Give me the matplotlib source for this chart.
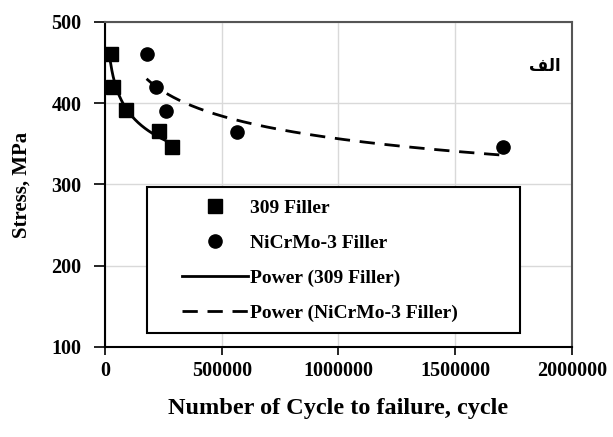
import numpy as np
import matplotlib
matplotlib.use("Agg")
import matplotlib.pyplot as plt
from matplotlib.patches import Rectangle

cycles_309 = [24000, 36000, 89000, 232000, 288000]
stress_309 = [460, 420, 392, 366, 346]
cycles_ni = [178000, 217000, 261000, 564000, 1706000]
stress_ni = [460, 420, 390, 365, 346]
x_ticks = [0, 500000, 1000000, 1500000, 2000000]
y_ticks = [100, 200, 300, 400, 500]
panel_label = "\uFED2\uFEDF\u0627"  # "الف" in visual (shaped) order

plt.rcParams['font.family'] = ['Liberation Serif', 'DejaVu Sans']
plt.rcParams['font.weight'] = 'bold'

fig = plt.figure(figsize=(6.13, 4.37), dpi=100)
ax = fig.add_axes([0.1713, 0.206, 0.7618, 0.7437])

def power_fit(x, y):
    b, loga = np.polyfit(np.log(x), np.log(y), 1)
    xs = np.linspace(min(x), max(x), 200)
    return xs, np.exp(loga) * xs ** b

ax.plot(cycles_309, stress_309, 's', color='black', markersize=9.5, label='309 Filler', zorder=4)
ax.plot(cycles_ni, stress_ni, 'o', color='black', markersize=9.5, label='NiCrMo-3 Filler', zorder=4)
xs, ys = power_fit(cycles_309, stress_309)
ax.plot(xs, ys, '-', color='black', linewidth=2, label='Power (309 Filler)', zorder=3)
xs, ys = power_fit(cycles_ni, stress_ni)
ax.plot(xs, ys, '--', color='black', linewidth=2, dashes=(5.5, 3.5), label='Power (NiCrMo-3 Filler)', zorder=3)

ax.set_xlim(0, 2000000)
ax.set_ylim(100, 500)
ax.set_xticks(x_ticks)
ax.set_yticks(y_ticks)
ax.set_xticklabels([str(v) for v in x_ticks])
ax.set_yticklabels([str(v) for v in y_ticks])
ax.grid(True, color='#d9d9d9', linewidth=1)
ax.set_axisbelow(True)
for s in ['top', 'right']:
    ax.spines[s].set_color('#555555')
    ax.spines[s].set_linewidth(1.5)
for s in ['left', 'bottom']:
    ax.spines[s].set_color('black')
    ax.spines[s].set_linewidth(1.5)
ax.tick_params(axis='x', direction='out', length=6, width=1.2, labelsize=14.5, pad=4)
ax.tick_params(axis='y', direction='out', length=8, width=1.2, labelsize=14.5, pad=9)
for lab in ax.get_xticklabels() + ax.get_yticklabels():
    lab.set_fontweight('bold')

ax.set_xlabel('Number of Cycle to failure, cycle', fontsize=17.5, fontweight='bold', labelpad=12)
ax.set_ylabel('Stress, MPa', fontsize=15, fontweight='bold', labelpad=14)

ax.text(0.975, 0.865, panel_label, transform=ax.transAxes, ha='right', va='center',
        fontsize=12, fontweight='bold', family=['DejaVu Sans'])

frame = Rectangle((0.09, 0.043), 0.799, 0.449, transform=ax.transAxes, fill=True,
                  facecolor='white', edgecolor='black', linewidth=1.5, zorder=5)
ax.add_patch(frame)
leg = ax.legend(loc='upper left', bbox_to_anchor=(0.165, 0.455),
                fontsize=14, frameon=False,
                handlelength=3.4, handletextpad=0.1, labelspacing=0.9, borderpad=0,
                borderaxespad=0)
leg.set_zorder(6)
for t in leg.get_texts():
    t.set_fontweight('bold')

fig.savefig('out.png', dpi=100)
